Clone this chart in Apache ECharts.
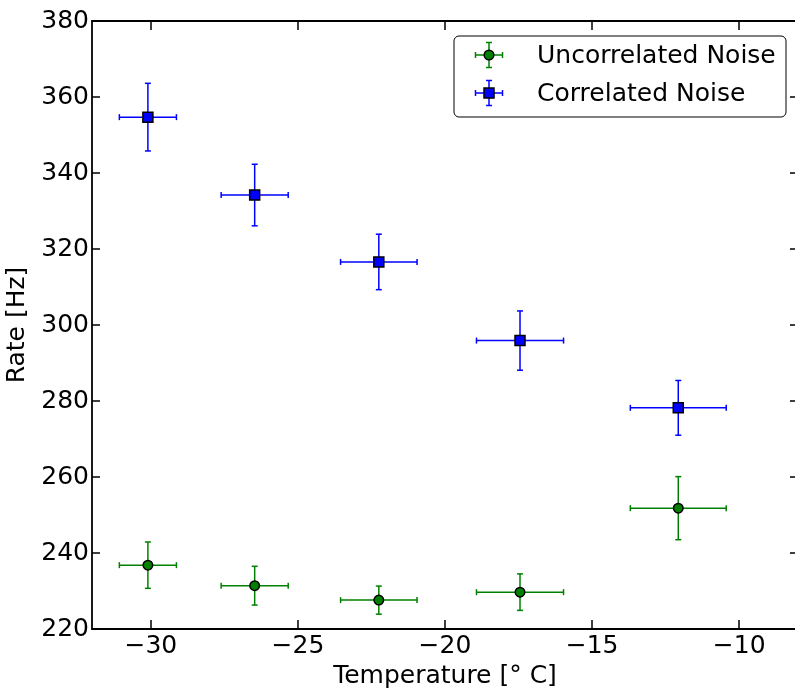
<!DOCTYPE html>
<html>
<head>
<meta charset="utf-8">
<script src="https://cdn.jsdelivr.net/npm/echarts@6/dist/echarts.min.js"></script>
<style>
html,body{margin:0;padding:0;background:#fff;}
#chart{width:795px;height:690px;}
</style>
</head>
<body>
<div id="chart"></div>
<script>
// Data
const temperature = [-30.1, -26.47, -22.25, -17.45, -12.07];
const temperatureErr = [0.97, 1.14, 1.3, 1.48, 1.63];
const uncorrelated = [236.8, 231.4, 227.6, 229.7, 251.8];
const uncorrelatedErr = [6.1, 5.1, 3.7, 4.8, 8.3];
const correlated = [354.7, 334.2, 316.6, 295.9, 278.2];
const correlatedErr = [8.9, 8.1, 7.3, 7.8, 7.2];
const xTicks = [-30, -25, -20, -15, -10];
const yTicks = [220, 240, 260, 280, 300, 320, 340, 360, 380];
const seriesNames = ['Uncorrelated Noise', 'Correlated Noise'];

const FONT = 'DejaVu Sans';
const GREEN = '#008000';
const BLUE = '#0000ff';

const chart = echarts.init(document.getElementById('chart'), null, {renderer: 'canvas'});

function minusFmt(v) { return String(v).replace('-', '\u2212'); }

function errRender(color) {
  return function (params, api) {
    const x = api.value(0), y = api.value(1), xe = api.value(2), ye = api.value(3);
    const l = api.coord([x - xe, y]);
    const r = api.coord([x + xe, y]);
    const t = api.coord([x, y + ye]);
    const b = api.coord([x, y - ye]);
    const cap = 3;
    const st = {stroke: color, lineWidth: 1.5};
    const mk = (x1, y1, x2, y2) => ({type: 'line', shape: {x1, y1, x2, y2}, style: st});
    return {
      type: 'group',
      children: [
        mk(l[0], l[1], r[0], r[1]),
        mk(t[0], t[1], b[0], b[1]),
        mk(l[0], l[1] - cap, l[0], l[1] + cap),
        mk(r[0], r[1] - cap, r[0], r[1] + cap),
        mk(t[0] - cap, t[1], t[0] + cap, t[1]),
        mk(b[0] - cap, b[1], b[0] + cap, b[1])
      ]
    };
  };
}

const axisLineStyle = {color: '#000', width: 1.8};
const tickStyle = {color: '#000', width: 1.5};
const labelStyle = {fontFamily: FONT, fontSize: 25, color: '#000'};

function legendCross(cx, cy, color) {
  const st = {stroke: color, lineWidth: 1.5};
  const h = 13.5, v = 12.5, cap = 3;
  const mk = (x1, y1, x2, y2) => ({type: 'line', shape: {x1, y1, x2, y2}, style: st, z: 5});
  return [
    mk(cx - h, cy, cx + h, cy),
    mk(cx, cy - v, cx, cy + v),
    mk(cx - h, cy - cap, cx - h, cy + cap),
    mk(cx + h, cy - cap, cx + h, cy + cap),
    mk(cx - cap, cy - v, cx + cap, cy - v),
    mk(cx - cap, cy + v, cx + cap, cy + v)
  ];
}

const legendGraphic = [
  {type: 'rect', shape: {x: 454, y: 36, width: 332, height: 81, r: 5},
   style: {fill: '#fff', stroke: '#000', lineWidth: 1}, z: 4}
].concat(
  legendCross(489, 55, GREEN),
  legendCross(489, 93, BLUE),
  [
    {type: 'circle', shape: {cx: 489, cy: 55, r: 4.8},
     style: {fill: GREEN, stroke: '#000', lineWidth: 1.5}, z: 6},
    {type: 'rect', shape: {x: 484, y: 88, width: 10, height: 10},
     style: {fill: BLUE, stroke: '#000', lineWidth: 1.5}, z: 6},
    {type: 'text', x: 537, y: 56, z: 6,
     style: {text: seriesNames[0], font: '25px "DejaVu Sans"', fill: '#000', verticalAlign: 'middle', align: 'left'}},
    {type: 'text', x: 537, y: 94, z: 6,
     style: {text: seriesNames[1], font: '25px "DejaVu Sans"', fill: '#000', verticalAlign: 'middle', align: 'left'}}
  ]
);

const option = {
  animation: false,
  backgroundColor: '#fff',
  grid: {left: 92, top: 21, width: 706, height: 608, containLabel: false, outerBoundsMode: 'none'},
  xAxis: [{
    type: 'value', position: 'bottom', min: -32, max: -8,
    name: 'Temperature [\u00b0 C]', nameLocation: 'middle', nameGap: 32,
    nameTextStyle: {fontFamily: FONT, fontSize: 25, color: '#000'},
    axisLine: {onZero: false, lineStyle: axisLineStyle},
    axisTick: {inside: true, length: 9, customValues: xTicks, lineStyle: tickStyle},
    axisLabel: Object.assign({customValues: xTicks, formatter: minusFmt, margin: 5}, labelStyle),
    splitLine: {show: false}
  }, {
    type: 'value', position: 'top', min: -32, max: -8,
    axisLine: {onZero: false, lineStyle: axisLineStyle},
    axisTick: {inside: true, length: 9, customValues: xTicks, lineStyle: tickStyle},
    axisLabel: {show: false},
    splitLine: {show: false}
  }],
  yAxis: [{
    type: 'value', position: 'left', min: 220, max: 380, interval: 20,
    name: 'Rate [Hz]', nameLocation: 'middle', nameGap: 52, nameRotate: 90,
    nameTextStyle: {fontFamily: FONT, fontSize: 25, color: '#000'},
    axisLine: {onZero: false, lineStyle: axisLineStyle},
    axisTick: {inside: true, length: 8, customValues: yTicks, lineStyle: tickStyle},
    axisLabel: Object.assign({customValues: yTicks, margin: 3}, labelStyle),
    splitLine: {show: false}
  }, {
    type: 'value', position: 'right', min: 220, max: 380, interval: 20,
    axisLine: {onZero: false, lineStyle: axisLineStyle},
    axisTick: {inside: true, length: 8, customValues: yTicks, lineStyle: tickStyle},
    axisLabel: {show: false},
    splitLine: {show: false}
  }],
  graphic: legendGraphic,
  series: [
    {
      name: seriesNames[0], type: 'scatter', symbol: 'circle', symbolSize: 9.5, z: 3,
      itemStyle: {color: GREEN, borderColor: '#000', borderWidth: 1.5, opacity: 1},
      data: temperature.map((t, i) => [t, uncorrelated[i]])
    },
    {
      name: seriesNames[1], type: 'scatter', symbol: 'rect', symbolSize: 10, z: 3,
      itemStyle: {color: BLUE, borderColor: '#000', borderWidth: 1.5, opacity: 1},
      data: temperature.map((t, i) => [t, correlated[i]])
    },
    {
      name: seriesNames[0], type: 'custom', z: 2,
      renderItem: errRender(GREEN), encode: {x: 0, y: 1},
      data: temperature.map((t, i) => [t, uncorrelated[i], temperatureErr[i], uncorrelatedErr[i]])
    },
    {
      name: seriesNames[1], type: 'custom', z: 2,
      renderItem: errRender(BLUE), encode: {x: 0, y: 1},
      data: temperature.map((t, i) => [t, correlated[i], temperatureErr[i], correlatedErr[i]])
    }
  ]
};
chart.setOption(option);
</script>
</body>
</html>
